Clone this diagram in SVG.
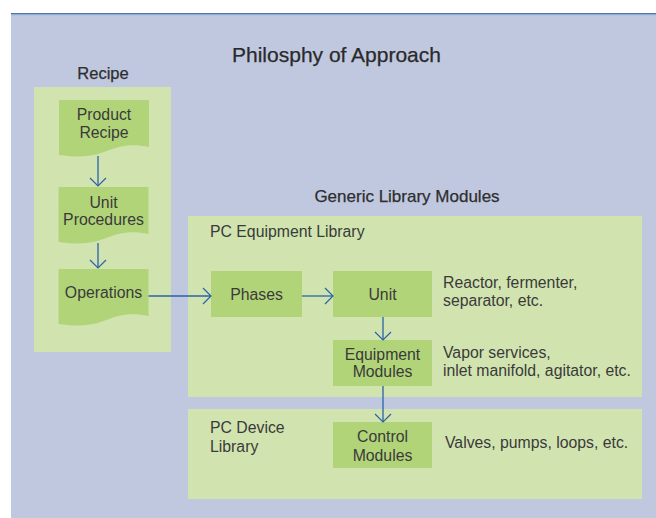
<svg xmlns="http://www.w3.org/2000/svg" width="656" height="518" viewBox="0 0 656 518">
<style>
text{font-family:"Liberation Sans",Arial,sans-serif;fill:#3a3a3a;font-size:15.8px}
.head{font-size:17px;fill:#2e2e2e;stroke:#2e2e2e;stroke-width:0.25}
.title{font-size:21px;fill:#2a2a2a;stroke:#2a2a2a;stroke-width:0.25}
.mid{text-anchor:middle}
.panel{fill:#d1e4b0}
.node{fill:#b1d479}
.conn{stroke:#2a62a8;stroke-width:1.3;fill:none;marker-end:url(#arr)}
</style>
<defs>
<marker id="arr" markerUnits="userSpaceOnUse" viewBox="0 0 10 18" refX="9" refY="9" markerWidth="10" markerHeight="18" orient="auto">
<path d="M1,1 L9,9 L1,17" fill="none" stroke="#2a62a8" stroke-width="1.2"/>
</marker>
<path id="doc" d="M0,0 H90 V47 C71,43 61,46 45,52 C29,58 13,57 0,55 Z"/>
</defs>
<rect x="0" y="0" width="656" height="518" fill="#ffffff"/>
<rect x="11" y="13" width="645" height="505" fill="#c0c8e0"/>
<rect x="11" y="13" width="645" height="1.2" fill="#4a78a8"/>
<rect x="11" y="14.2" width="645" height="1" fill="#8ca8d2"/>

<g id="title"><text class="title mid" x="336.5" y="62">Philosphy of Approach</text></g>

<g id="recipe-panel">
<rect class="panel" x="34" y="87" width="137" height="265"/>
<text class="head mid" x="103" y="79" style="font-size:16.5px">Recipe</text>
</g>
<g id="generic-label"><text class="head mid" x="407" y="202">Generic Library Modules</text></g>
<g id="equipment-library">
<rect class="panel" x="188" y="216" width="454" height="181"/>
<text x="210" y="237">PC Equipment Library</text>
</g>
<g id="device-library">
<rect class="panel" x="188" y="409" width="454" height="90"/>
<text x="210" y="433">PC Device</text>
<text x="210" y="452">Library</text>
</g>

<g id="product-recipe">
<use href="#doc" class="node" transform="translate(59,100)"/>
<text class="mid" x="104" y="120">Product</text>
<text class="mid" x="104" y="138">Recipe</text>
</g>
<g id="unit-procedures">
<use href="#doc" class="node" transform="translate(58.5,187)"/>
<text class="mid" x="103.5" y="208">Unit</text>
<text class="mid" x="103.5" y="225">Procedures</text>
</g>
<g id="operations">
<use href="#doc" class="node" transform="translate(58.5,269)"/>
<text class="mid" x="103.5" y="298">Operations</text>
</g>
<g id="phases">
<rect class="node" x="211" y="271" width="91" height="46"/>
<text class="mid" x="256.5" y="300">Phases</text>
</g>
<g id="unit">
<rect class="node" x="333" y="271" width="99" height="46"/>
<text class="mid" x="382.5" y="300">Unit</text>
<text x="443" y="288">Reactor, fermenter,</text>
<text x="443" y="306">separator, etc.</text>
</g>
<g id="equipment-modules">
<rect class="node" x="333" y="340" width="99" height="46"/>
<text class="mid" x="382.5" y="360">Equipment</text>
<text class="mid" x="382.5" y="377">Modules</text>
<text x="443" y="358">Vapor services,</text>
<text x="443" y="376">inlet manifold, agitator, etc.</text>
</g>
<g id="control-modules">
<rect class="node" x="333" y="422" width="99" height="46"/>
<text class="mid" x="382.5" y="442">Control</text>
<text class="mid" x="382.5" y="461">Modules</text>
<text x="445" y="448">Valves, pumps, loops, etc.</text>
</g>

<g id="connectors">
<line class="conn" x1="98" y1="156" x2="98" y2="186"/>
<line class="conn" x1="98" y1="243" x2="98" y2="268"/>
<line class="conn" x1="148.5" y1="296" x2="211" y2="296"/>
<line class="conn" x1="302" y1="296" x2="333" y2="296"/>
<line class="conn" x1="383" y1="317" x2="383" y2="340"/>
<line class="conn" x1="383" y1="386" x2="383" y2="422"/>
</g>
</svg>
